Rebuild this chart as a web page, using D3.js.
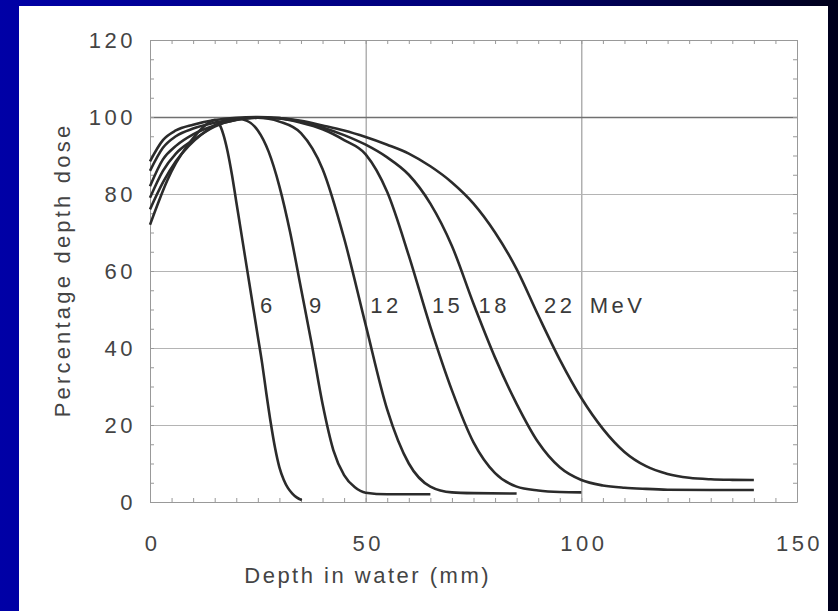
<!DOCTYPE html>
<html>
<head>
<meta charset="utf-8">
<script src="https://cdn.jsdelivr.net/npm/d3@7"></script>
<style>
  body { margin: 0; padding: 0; overflow: hidden; }
  svg { display: block; }
  text { font-family: "Liberation Sans", Arial, sans-serif; }
</style>
</head>
<body>
<script>
"use strict";
(function(){
  // depth (mm), percentage depth dose
  const mev6 = [[0,72],[2,78],[4,83.5],[6,88],[8,91.5],[10,94.5],[12,97],[14,98.8],[15,99.2],[16,98.3],[17,95.5],[18,91],[19,85],[20,78],[21,71],[22,64],[23,57],[24,50],[25,43],[26,36],[27,28],[28,20.5],[29,14],[30,9],[31,5.8],[32,3.6],[33,2.2],[34,1.2],[35.2,0.5]]
  const mev9 = [[0,76],[3,83],[6,88.5],[9,92.5],[12,95.5],[15,97.8],[18,99.2],[20,99.6],[22.5,99],[25,96.5],[27.5,91],[30,82],[32.5,70],[35,55.5],[37.5,41],[40,25.5],[42.5,13.5],[45,7],[47.5,3.8],[50,2.4],[55,2],[65,2]]
  const mev12 = [[0,79],[3,86],[6,90.5],[10,94],[15,97.5],[20,99.3],[25,99.8],[30,98.8],[35,95.8],[40,86.5],[45,68.5],[50,46],[55,24],[60,10],[65,4],[70,2.5],[75,2.3],[85,2.2]]
  const mev15 = [[0,82],[3,89],[6,92.5],[10,95.5],[15,97.8],[20,99.2],[25,99.8],[30,99.6],[35,98.5],[40,96.8],[45,94],[50,90.3],[55,80.5],[60,64],[65,45.5],[70,29],[75,15.5],[80,7.5],[85,4],[90,3],[95,2.6],[100,2.5]]
  const mev18 = [[0,86],[3,92],[6,95],[10,97],[15,98.5],[20,99.5],[25,99.9],[30,99.7],[35,98.8],[40,97.3],[45,95.3],[50,92.8],[55,89.5],[60,85],[65,77.5],[70,66.5],[75,51.5],[80,37.5],[85,25.5],[90,15.5],[95,9],[100,5.7],[105,4.3],[110,3.7],[115,3.4],[120,3.2],[130,3.1],[140,3.1]]
  const mev22 = [[0,88.5],[3,94],[6,96.5],[10,98],[15,99.2],[20,99.8],[25,100],[30,99.7],[35,99],[40,97.8],[45,96.5],[50,94.8],[55,92.8],[60,90.5],[65,87.2],[70,83],[75,77.5],[80,70],[85,60.5],[90,48.5],[95,37],[100,27],[105,19],[110,13],[115,9.3],[120,7.3],[125,6.3],[130,5.9],[135,5.75],[140,5.7]]
  const curves = [mev6, mev9, mev12, mev15, mev18, mev22]

  const labels = ["6", "9", "12", "15", "18", "22", "MeV"]
  const xTicks = [0, 50, 100, 150]
  const yTicks = [0, 20, 40, 60, 80, 100, 120]

  const size = { width: 838, height: 611 }
  const plot = { left: 150, right: 797, top: 40, bottom: 502 }
  // where each curve label sits (depth, dose)
  const labelPos = [[27.3,49.1],[38.7,49.1],[54.7,49.1],[69,49.1],[79.8,49.1],[95,49.1],[108.4,49.1]]

  const svg = d3.select("body").append("svg")
      .attr("width", size.width)
      .attr("height", size.height)

  // slide background
  const grad = svg.append("defs").append("linearGradient")
      .attr("id", "bg").attr("x1", 0).attr("x2", 1).attr("y1", 0).attr("y2", 0)
  grad.append("stop").attr("offset", "0%").attr("stop-color", "#0000a6")
  grad.append("stop").attr("offset", "55%").attr("stop-color", "#000078")
  grad.append("stop").attr("offset", "100%").attr("stop-color", "#00001c")
  svg.append("rect").attr("width", size.width).attr("height", size.height).attr("fill", "url(#bg)")
  svg.append("rect").attr("x", 19).attr("y", 6).attr("width", 809).attr("height", 605).attr("fill", "#fff")

  const x = d3.scaleLinear().domain([0, 150]).range([plot.left, plot.right])
  const y = d3.scaleLinear().domain([0, 120]).range([plot.bottom, plot.top])

  // grid
  svg.append("g")
      .attr("transform", `translate(0,${plot.bottom})`)
      .call(d3.axisBottom(x).tickValues([50, 100]).tickSize(-(plot.bottom - plot.top)).tickFormat(""))
      .call(g => g.select(".domain").remove())
      .call(g => g.selectAll("line").attr("stroke", "#8a8a8a").attr("stroke-width", 1))
  svg.append("g")
      .attr("transform", `translate(${plot.left},0)`)
      .call(d3.axisLeft(y).tickValues([20, 40, 60, 80, 100]).tickSize(-(plot.right - plot.left)).tickFormat(""))
      .call(g => g.select(".domain").remove())
      .call(g => g.selectAll("line").attr("stroke", d => d === 100 ? "#707070" : "#b4b4b4").attr("stroke-width", d => d === 100 ? 1.4 : 1))

  // frame with small inward ticks
  const minor = d3.range(0, 151, 5)
  const minorY = d3.range(0, 121, 5)
  const frame = [
    [d3.axisBottom(x).tickValues(minor), `translate(0,${plot.bottom})`],
    [d3.axisTop(x).tickValues(minor), `translate(0,${plot.top})`],
    [d3.axisLeft(y).tickValues(minorY), `translate(${plot.left},0)`],
    [d3.axisRight(y).tickValues(minorY), `translate(${plot.right},0)`]
  ]
  frame.forEach(([ax, tr]) => {
    svg.append("g").attr("transform", tr)
        .call(ax.tickSize(-4).tickSizeOuter(0).tickFormat(""))
        .call(g => g.selectAll("line,path").attr("stroke", "#999"))
  })

  // tick labels
  svg.append("g")
      .attr("transform", `translate(0,${plot.bottom})`)
      .call(d3.axisBottom(x).tickValues(xTicks).tickSize(0).tickPadding(33))
      .call(g => g.select(".domain").remove())
      .call(g => g.selectAll("text").attr("font-size", 22).attr("letter-spacing", 3.5).attr("dx", 2).attr("fill", "#444").attr("font-family", "Liberation Sans, Arial, sans-serif"))
  svg.append("g")
      .attr("transform", `translate(${plot.left},0)`)
      .call(d3.axisLeft(y).tickValues(yTicks).tickSize(0).tickPadding(17))
      .call(g => g.select(".domain").remove())
      .call(g => g.selectAll("text").attr("font-size", 22).attr("letter-spacing", 3.5).attr("dx", 3).attr("fill", "#444").attr("font-family", "Liberation Sans, Arial, sans-serif"))

  // curves
  const line = d3.line()
      .x(d => x(d[0]))
      .y(d => y(d[1]))
      .curve(d3.curveMonotoneX)
  svg.selectAll(".pdd")
      .data(curves)
      .enter()
      .append("path")
        .attr("class", "pdd")
        .attr("d", line)
        .attr("fill", "none")
        .attr("stroke", "#2b2b2b")
        .attr("stroke-width", 2.6)

  svg.selectAll(".lbl")
      .data(labels)
      .enter()
      .append("text")
        .attr("class", "lbl")
        .attr("x", (d, i) => x(labelPos[i][0]))
        .attr("y", (d, i) => y(labelPos[i][1]))
        .attr("text-anchor", "middle")
        .attr("font-size", 22)
        .attr("letter-spacing", 3.5)
        .attr("fill", "#3a3a3a")
        .text(d => d)

  // axis titles
  svg.append("text")
      .attr("x", x(50) + 2).attr("y", 583)
      .attr("text-anchor", "middle")
      .attr("font-size", 22).attr("letter-spacing", 2.5)
      .attr("fill", "#444")
      .text("Depth in water (mm)")
  svg.append("text")
      .attr("transform", "translate(70,270) rotate(-90)")
      .attr("text-anchor", "middle")
      .attr("font-size", 22).attr("letter-spacing", 3.2)
      .attr("fill", "#444")
      .text("Percentage depth dose")
})()
</script>
</body>
</html>
